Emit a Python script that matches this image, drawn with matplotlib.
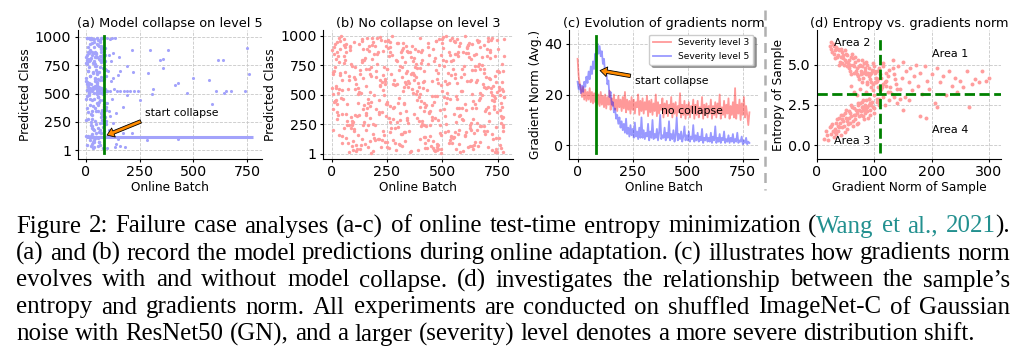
import matplotlib
matplotlib.use('Agg')
import numpy as np
import matplotlib.pyplot as plt
from matplotlib.lines import Line2D

# ---- data ----
batch_ticks = [0, 250, 500, 750]
class_ticks = [1, 250, 500, 750, 1000]
collapse_batch = 85
collapse_class = 115

# (a) level 5: predictions before / around collapse
a_x = [3,12,25,41,57,70,88,6,18,33,49,62,79,92,9,27,44,53,66,81,
       1,15,30,38,51,74,86,11,22,36,47,59,68,83,5,20,42,55,72,90,
       8,17,29,35,46,63,77,94,2,14,26,39,58,67,80,13,31,48,61,75,
       4,19,24,37,52,64,85,10,28,43,56,71,89,7,21,34,50,65,78,93,
       16,32,45,60,73,84,0,23,40,54,69,82,96,12,27,44,58,76,87,3,
       9,24,36,51,63,79,91,6,18,31,47,57,70,84,14,29,42,55,68,81,
       2,20,33,46,61,74,88,11,25,39,53,66,80,95,5,17,30,49,62,77,
       8,22,35,48,59,72,86,1,15,28,41,56,69,83,10,26,43,52,67,90,
       4,19,32,45,57,71,85,13,23,37,50,64,78,92,7,21,34,47,60,75,
       0,16,29,40,54,65,82,94,11,27,38,51,63,73,87,3,18,31,46,58,
       6,24,36,49,62,76,89,12,26,42,55,68,80,2,14,33,44,57,70,84,
       9,20,35,48,61,72,86,5,17,30,43,53,66,79,93,10,25,39,52,64]
a_y = [845,512,130,760,538,290,905,47,655,980,420,810,530,230,700,118,372,988,545,620,
       265,790,520,95,670,835,410,560,985,180,742,507,330,880,600,455,820,36,548,715,
       528,940,310,860,150,620,502,385,770,540,60,915,470,830,210,990,690,115,555,345,
       800,400,585,25,825,515,720,280,950,640,110,780,360,535,875,190,495,960,245,660,
       525,70,850,430,990,170,610,815,255,518,890,380,520,735,140,565,930,310,842,480,
       700,990,120,590,795,440,260,530,88,770,345,970,505,625,860,215,550,410,900,18,
       450,660,543,230,920,355,790,130,985,510,680,50,838,525,370,805,275,580,160,730,
       915,320,780,115,510,865,395,640,532,195,752,470,988,300,575,840,105,690,445,545,
       585,885,20,710,350,548,830,490,250,960,600,118,790,420,990,540,680,860,75,270,
       130,505,870,630,200,975,520,360,810,440,75,560,735,900,290,780,985,555,820,400,
       760,225,980,517,690,805,115,590,350,870,470,155,535,825,510,390,745,630,920,265,
       340,550,455,820,75,650,528,990,800,115,615,940,240,495,712,870,42,785,530,180]
a_sparse_x = [428,470,498,573,615,638,605,643,652,675,587,741,750,759,428,
              213,298,380,359,345,190,219,289,359,150,415,313,306,251,174,190,182,135,283,213,
              100,110,120,135,105,115,125,102,118,130,110,145,160,175,190,205,225,240,
              100,112,125,105,140,98,160,150,170,120,138,160,108,128,155]
a_sparse_y = [595,506,639,622,799,799,524,506,524,524,409,524,905,675,98,
              887,881,887,808,799,740,695,683,728,666,577,542,497,444,381,489,30,30,90,150,
              990,985,990,988,840,790,860,700,610,545,525,525,525,520,525,525,522,525,
              420,300,240,180,60,20,40,100,150,450,330,700,350,640,820]

# (b) level 3: predictions spread over all classes
b_x = [12,87,153,241,318,402,467,539,611,688,745,33,120,199,276,355,430,512,590,662,
       731,5,64,141,226,297,371,448,520,603,676,770,48,108,183,259,336,415,494,567,
       641,718,22,95,170,248,329,390,475,553,629,704,762,71,136,212,287,364,441,506,
       582,655,738,17,79,160,233,309,382,458,531,617,693,757,41,127,205,268,347,423,
       499,575,648,726,2,58,147,219,292,377,452,527,598,672,749,29,101,176,252,331,
       408,484,560,633,711,776,84,163,237,313,394,470,545,622,697,9,54,131,208,283,
       361,437,515,587,668,740,37,115,190,264,342,419,503,571,646,723,767,66,150,228,
       303,385,461,536,607,683,754,19,92,174,245,323,398,479,556,626,701,778,44,122,
       196,272,351,427,508,579,659,734,14,75,157,230,316,387,463,541,614,690,761,61,
       139,215,294,368,446,523,594,670,743,26,104,186,256,339,412,490,566,639,716,772,
       51,133,202,279,358,433,511,585,664,737,7,82,166,242,320,400,474,549,620,695,
       765,39,118,193,270,345,426,497,573,652,728,23,98,179,255,327,406,482,562,636,
       708,774,70,145,222,300,374,455,533,604,680,752,3,88,161,239,310,391,466,548,
       624,699,769,57,125,207,285,362,440,517,592,666,742,31,112,188,262,334,417,493,
       569,645,721,16,94,171,249,325,403,478,557,631,706,777,45,129,211,289,366,444,
       521,601,677,747,11,80,155,234,306,384,459,538,610,686,759,35,106,181,265,341,
       421,502,577,656,733,28,100,173,250,330,409,486,564,643,719,775,62,143,217,298,
       373,451,529,609,687,758,20,90,168,244,319,397,472,554,628,702,766,49,137,213,
       30,110,185,262,340,415,495,570,650,725,60,140,220,300,380,455,535,615,690,770,
       8,92,168,248,325,405,480,558,635,712,75,155,235,315,395,470,550,630,705,780,
       45,125,200,282,360,440,518,596,672,750,18,100,178,258,338,418,496,575,655,732,
       67,147,227,307,387,465,545,623,700,776,38,118,196,276,354,434,512,590,668,746,
       25,105,182,263,343,422,500,580,658,736,55,135,213,293,372,451,530,608,686,764,
       14,96,175,254,332,412,490,568,646,724,80,160,240,318,398,477,556,634,713,771,
       40,120,198,278,357,436,515,593,671,749,6,86,165,244,323,402,481,560,639,717,
       70,150,230,310,390,468,547,626,704,779,34,113,192,271,350,430,509,587,666,744,
       20,99,179,259,337,416,494,573,652,730,58,138,218,297,376,456,535,613,692,768,
       48,128,207,287,366,445,524,602,681,758,12,91,171,251,330,409,488,567,646,725,
       77,157,236,316,395,474,553,632,710,775,26,106,186,265,344,423,502,581,660,739,
       4,84,163,243,322,401,480,559,637,716,63,143,223,302,381,460,539,618,697,773]
b_y = [845,312,578,96,733,450,21,667,904,238,519,980,155,702,387,861,49,615,293,950,
       407,672,130,889,356,590,812,67,469,995,231,758,540,19,924,301,683,146,837,462,
       78,561,945,268,717,420,183,873,631,339,802,57,498,276,976,125,584,909,342,741,
       649,203,826,444,12,979,538,286,763,110,602,918,360,693,475,37,848,220,566,88,
       935,384,709,171,556,828,271,624,33,891,411,190,747,517,962,326,653,5,438,779,
       250,973,486,62,644,315,881,427,734,163,568,955,93,820,375,697,214,518,866,400,
       552,119,786,390,902,226,681,41,497,858,307,620,987,168,743,454,264,931,82,611,
       710,459,28,961,372,595,137,803,256,672,917,530,392,76,844,614,191,483,999,325,
       113,836,599,233,479,14,745,381,928,547,205,869,651,301,440,782,53,688,367,906,
       781,333,942,687,148,512,860,99,609,421,731,24,896,287,558,178,970,443,637,241,
       463,71,650,296,823,941,181,534,764,15,378,913,247,587,821,121,492,716,935,560,
       322,887,508,136,677,261,413,972,202,849,576,351,106,657,966,429,798,36,270,709,
       985,535,244,794,58,431,627,312,841,160,499,703,877,219,386,958,74,603,815,131,
       218,649,395,918,520,763,89,682,357,996,285,456,42,775,594,251,905,359,699,8,
       830,173,961,449,277,106,721,564,864,31,639,197,952,482,336,675,127,791,516,247,
       591,419,754,13,903,662,345,196,473,725,889,152,616,919,72,547,328,983,184,870,
       47,896,318,623,491,826,945,408,101,608,278,754,389,840,527,13,691,247,573,939,
       668,283,95,857,190,569,459,747,911,316,64,981,708,139,262,885,430,621,791,354,
       512,77,943,268,701,432,158,866,609,34,795,381,990,223,652,487,118,924,563,306,
       691,245,872,54,418,767,603,182,931,349,88,716,502,860,279,958,145,627,394,829,
       151,928,383,624,22,837,256,675,471,890,560,207,739,46,915,358,582,81,968,443,
       862,410,113,747,534,299,981,66,826,192,671,427,914,589,11,764,319,528,239,704,
       298,632,802,402,860,138,533,936,262,657,974,125,452,782,336,620,863,187,721,52,
       736,35,526,959,180,611,371,842,99,494,246,885,630,165,505,84,948,391,815,612,
       953,560,247,115,676,907,429,22,718,356,510,763,59,425,897,235,681,42,295,878,
       421,812,668,344,28,489,793,244,565,973,155,318,845,996,193,542,378,714,959,132,
       578,196,441,829,591,244,39,915,391,121,770,953,582,267,736,46,464,898,170,545,
       87,711,978,214,785,363,684,149,822,540,439,69,302,721,107,881,244,601,418,977,
       626,329,157,882,477,60,953,504,280,701,858,545,171,946,613,392,795,325,63,473,
       205,902,466,615,939,727,289,675,42,861,337,638,965,82,509,786,141,851,560,230]

# (c) average gradient norm, one value every 5 online batches
c_step = 5
sev3_norm = [34,27,24,22,19,23,18,22,17.5,21,18,22.5,17,21,16.5,20.5,17,22,16,20,
             15.5,21,16,19.5,15,20,14.5,19,16,21.5,14,18.5,15.5,20,14,18,13.5,19.5,15,18,
             13.5,19,14.5,21,13,18,14,17.5,12.5,19,14,18,12.5,17,15,20,12,17.5,13.5,18.5,
             12.5,17,14,19.5,11.5,17.5,13,18,12,16.5,13.5,20,11.5,17,12.5,16,14,18.5,11,16.5,
             12.5,17.5,11.5,16,13,19,11,16.5,12.5,17,11.5,15.5,13,20.5,11,16,12,17.5,10.5,16,
             12,17,11,15.5,13,18,10.5,16,12,17.5,11,15,12.5,19,10.5,16,12,16.5,11,15.5,
             12.5,18,10.5,15.5,12,17,11,16.5,12.5,20,10.5,15,12,17.5,11,16,12.5,18.5,10.5,15.5,
             12,17,11,22.5,10.5,16,12.5,18,10,16.5,12,19,11,15.5,12,8,13]
sev5_norm = [25,22,24,20.5,23.5,21,25,23,27,24.5,29,26,31,28,33,30,36,33,40,36,
             39,35,37,32,34,28,30,24,25.5,19,21,16,17,13,14.5,10.5,12,8.5,11,7,
             9.5,6,8.5,5,10.5,4.5,7,3.5,8,4,6.5,3,9,3.5,5.5,2.5,7,3,11,3,
             6,2.5,5,3.5,8.5,2,5.5,3,10,2.5,4.5,3,6.5,2,5,12,2.5,4,3,7,
             2,5,3,9.5,2,4.5,2.5,6,1.5,4,11,2,4.5,2.5,5.5,1.5,3.5,7.5,2,4,
             2,5.5,1.5,3.5,2.5,8,1.5,4,2,5,1.5,3.5,2,6.5,1,3,2,4.5,1.5,3,
             1.5,5,1,3.5,2,7.5,1,3,1.5,4.5,1,3,2,5.5,1,2.5,1.5,4,1,3,
             1.5,4.5,1,2.5,1.5,5,1,2,1.5,3.5,0.5,2,1,3,0.5,1.5,1]

# (d) per-sample gradient norm vs entropy
d_hi_x = [22,25,28,30,33,35,38,40,42,45,47,50,52,55,57,60,62,65,67,70,72,75,77,80,82,85,88,90,92,95,98,100,103,106,110,
          27,32,36,41,44,48,53,56,61,64,68,71,74,79,83,87,91,96,101,105,
          24,31,37,43,49,54,58,63,69,73,78,84,89,94,99,104,108,112,116,120,
          30,39,46,51,59,66,76,81,86,93,97,102,107,111,115,118,124,128,132,136]
d_hi_y = [6.2,6.0,6.3,5.7,6.1,5.5,5.9,5.2,6.0,5.4,5.0,5.7,4.9,5.3,4.6,5.5,5.0,4.5,5.2,4.8,4.3,5.0,4.6,4.2,5.1,4.4,3.9,4.8,4.1,4.5,3.8,4.9,4.2,3.6,4.4,
          5.8,5.9,6.0,5.5,5.8,5.3,5.6,4.8,5.7,4.9,4.6,5.3,4.1,4.9,4.6,5.0,4.3,4.7,3.9,4.6,
          6.4,5.4,5.6,5.1,5.9,5.1,5.0,5.4,4.4,4.9,5.3,4.8,4.5,3.9,4.6,4.0,4.8,4.2,3.8,4.5,
          6.2,5.0,5.6,5.2,4.4,5.5,4.4,4.5,5.2,4.4,5.1,4.5,4.1,3.5,4.9,3.9,4.3,3.6,4.8,4.1]
d_mid_x = [115,120,125,128,132,135,138,142,145,148,150,153,156,160,163,166,170,173,176,180,
           184,188,192,196,200,205,210,215,220,225,230,235,240,245,250,255,262,265,270,276,
           282,288,295,300,190,180,210,160,140,150,
           85,90,95,100,105,110,115,120,125,130,88,93,98,103,108,113,118,123,70,75,
           80,65,60,72,78,83,97,135,140,145]
d_mid_y = [5.1,4.0,4.7,3.3,5.3,4.4,3.8,4.9,3.5,4.2,5.2,3.0,4.6,3.9,4.8,3.4,4.3,5.0,3.7,4.5,
           3.2,4.9,4.0,3.5,4.4,2.6,4.8,3.9,4.3,3.1,4.6,3.7,4.2,3.3,4.0,3.6,4.6,2.4,3.8,4.1,
           3.9,4.6,4.0,4.2,1.7,1.8,2.4,2.8,2.6,2.2,
           3.3,2.9,3.6,3.1,2.7,3.4,3.0,3.7,2.8,3.2,3.8,2.6,3.4,3.9,2.9,3.6,2.5,3.3,3.1,3.5,
           2.8,3.3,3.7,2.6,3.9,2.5,2.4,3.0,3.5,2.9]
d_lo_x = [12,15,18,20,22,25,27,30,32,35,37,40,42,45,47,50,52,55,57,60,62,65,67,70,72,75,77,80,82,85,88,90,93,96,100,104,108,
          28,33,38,43,48,53,58,63,68,73,78,83,87,92,
          24,31,36,41,46,51,56,61,66,71,76,81,86,91,
          34,39,44,49,54,59,64,69,74,79,84,89,94,99]
d_lo_y = [0.4,0.9,0.6,0.3,1.1,0.7,1.3,0.5,1.0,1.6,0.9,1.4,0.6,1.9,1.2,1.7,1.0,2.1,1.4,1.8,1.2,2.3,1.6,2.0,1.4,2.6,1.9,2.2,1.6,2.8,2.1,2.5,1.9,2.7,2.3,2.9,2.5,
          0.9,1.4,1.1,1.6,0.8,1.5,2.0,1.5,2.2,1.8,2.4,2.0,2.4,2.2,
          1.2,0.8,1.2,1.9,1.5,2.2,1.7,2.4,1.9,2.5,2.1,1.8,2.2,2.9,
          0.7,1.7,1.1,2.0,1.3,2.5,1.9,1.3,2.2,2.7,2.4,1.7,2.5,2.0]
grad_split = 110
entropy_split = 3.2
areas = ['Area 1', 'Area 2', 'Area 3', 'Area 4']
area_x = [200, 30, 30, 200]
area_y = [5.7, 6.35, 0.25, 0.95]

caption = [
    "Figure 2: Failure case analyses (a-c) of online test-time entropy minimization ([Wang et al., 2021]).",
    "(a) and (b) record the model predictions during online adaptation. (c) illustrates how gradients norm",
    "evolves with and without model collapse. (d) investigates the relationship between the sample\u2019s",
    "entropy and gradients norm. All experiments are conducted on shuffled ImageNet-C of Gaussian",
    "noise with ResNet50 (GN), and a larger (severity) level denotes a more severe distribution shift.",
]

# ---- figure ----
W, H = 1024, 355
fig = plt.figure(figsize=(W / 100, H / 100), dpi=100)


def rect(l, t, r, b):
    return [l / W, 1 - b / H, (r - l) / W, (b - t) / H]


blue_pt = '#a3a3fb'
red_pt = '#ff9d9d'
arrow = dict(facecolor='#ff8c00', edgecolor='black', lw=0.6, width=2.5,
             headwidth=7, headlength=5, shrink=0)


def style(ax, title, xlabel, ylabel):
    ax.set_title(title, fontsize=9.3, pad=2.5)
    ax.set_xlabel(xlabel, fontsize=8.7, labelpad=1)
    ax.set_ylabel(ylabel, fontsize=8.7, labelpad=2)
    ax.tick_params(labelsize=10.3, length=2.5, pad=2)
    ax.grid(True, ls='--', color='#c8c8c8', lw=0.6)
    ax.set_axisbelow(True)
    for s in ['top', 'right']:
        ax.spines[s].set_visible(False)


# (a)
ax = fig.add_axes(rect(77.6, 30, 262, 159))
ax.hlines(collapse_class, 0, 775, color=blue_pt, lw=2.2)
ax.scatter(a_x, a_y, s=6, color=blue_pt, linewidths=0)
ax.scatter(a_sparse_x, a_sparse_y, s=5, color=blue_pt, linewidths=0)
ax.plot([collapse_batch, collapse_batch], [-25, 1010], color='green', lw=2)
ax.annotate('', xy=(98, 134), xytext=(255, 255), arrowprops=arrow)
ax.text(275, 300, 'start collapse', fontsize=7.8)
ax.set_xticks(batch_ticks)
ax.set_yticks(class_ticks)
ax.set_xlim(-39, 819)
style(ax, '(a) Model collapse on level 5', 'Online Batch', 'Predicted Class')

# (b)
ax = fig.add_axes(rect(323, 30, 513, 159))
ax.scatter(b_x, b_y, s=6, color=red_pt, linewidths=0)
ax.set_xticks(batch_ticks)
ax.set_yticks(class_ticks)
ax.set_xlim(-39, 819)
style(ax, '(b) No collapse on level 3', 'Online Batch', 'Predicted Class')

# (c)
ax = fig.add_axes(rect(569, 30, 758, 159))
c_x = np.arange(len(sev3_norm)) * c_step
ax.plot(c_x, sev3_norm, color='red', alpha=0.4, lw=1.3, label='Severity level 3')
ax.plot(c_x, sev5_norm, color='blue', alpha=0.4, lw=1.3, label='Severity level 5')
ax.plot([collapse_batch, collapse_batch], [-3, 43], color='green', lw=2)
ax.annotate('', xy=(102, 29.4), xytext=(240, 27.3), arrowprops=arrow)
ax.text(262, 25.3, 'start collapse', fontsize=7.8, va='center')
ax.text(377, 13.5, 'no collapse', fontsize=7.8, va='center')
ax.set_xticks(batch_ticks)
ax.set_yticks([0, 20, 40])
ax.set_xlim(-39, 819)
ax.set_ylim(-5.3, 45.3)
ax.legend(loc='upper right', fontsize=6.6, shadow=True, framealpha=1,
          borderaxespad=0.5)
style(ax, '(c) Evolution of gradients norm', 'Online Batch', 'Gradient Norm (Avg.)')

# (d)
ax = fig.add_axes(rect(817, 30, 1001, 159))
ax.scatter(d_hi_x, d_hi_y, s=8, color=red_pt, linewidths=0)
ax.scatter(d_mid_x, d_mid_y, s=8, color=red_pt, linewidths=0)
ax.scatter(d_lo_x, d_lo_y, s=8, color=red_pt, linewidths=0)
ax.plot([grad_split, grad_split], [-0.5, 6.8], color='green', ls='--', lw=2)
ax.plot([0, 321], [entropy_split, entropy_split], color='green', ls='--', lw=2)
for name, x, y in zip(areas, area_x, area_y):
    ax.text(x, y, name, fontsize=8, va='center')
ax.set_xticks([0, 100, 200, 300])
ax.set_yticks([0, 2.5, 5.0])
ax.set_yticklabels(['0.0', '2.5', '5.0'])
ax.set_xlim(0, 321)
ax.set_ylim(-0.87, 7.17)
style(ax, '(d) Entropy vs. gradients norm', 'Gradient Norm of Sample', 'Entropy of Sample')

fig.add_artist(Line2D([765 / W, 765 / W], [1 - 10 / H, 1 - 190 / H],
                      color='#b0b0b0', lw=1.8, ls=(0, (4, 2.5))))

# ---- caption, justified word by word ----
renderer = fig.canvas.get_renderer()
cap_left, cap_right = 16, 1010
teal = '#22908f'


def split_words(line, state):
    words = []
    for w in line.split(' '):
        parts, buf = [], ''
        for ch in w:
            if ch in '[]':
                if buf:
                    parts.append((buf, state))
                    buf = ''
                state = ch == '['
            else:
                buf += ch
        if buf:
            parts.append((buf, state))
        words.append(parts)
    return words, state


def width(s, fs):
    t = fig.text(0, 0, s, fontsize=fs, family='Liberation Serif')
    w = t.get_window_extent(renderer).width
    t.remove()
    return w


state = False
lines = []
for line in caption:
    words, state = split_words(line, state)
    lines.append(words)

base_fs = 16
space0 = width('x x', base_fs) - width('xx', base_fs)
ratios = []
for words in lines[:-1]:
    nat = sum(width(''.join(p for p, _ in w), base_fs) for w in words) + space0 * (len(words) - 1)
    ratios.append((cap_right - cap_left) / nat)
fs = base_fs * min(ratios)
space = width('x x', fs) - width('xx', fs)

y0, dy = 232.5, 27
for i, words in enumerate(lines):
    widths = [[width(p, fs) for p, _ in w] for w in words]
    total = sum(sum(ws) for ws in widths)
    if i < len(lines) - 1:
        gap = (cap_right - cap_left - total) / (len(words) - 1)
    else:
        gap = space
    x = cap_left
    for w, ws in zip(words, widths):
        for (p, cite), pw in zip(w, ws):
            fig.text(x / W, 1 - (y0 + i * dy) / H, p, fontsize=fs,
                     family='Liberation Serif', va='baseline',
                     color=teal if cite else 'black')
            x += pw
        x += gap

fig.savefig('out.png', dpi=100)
